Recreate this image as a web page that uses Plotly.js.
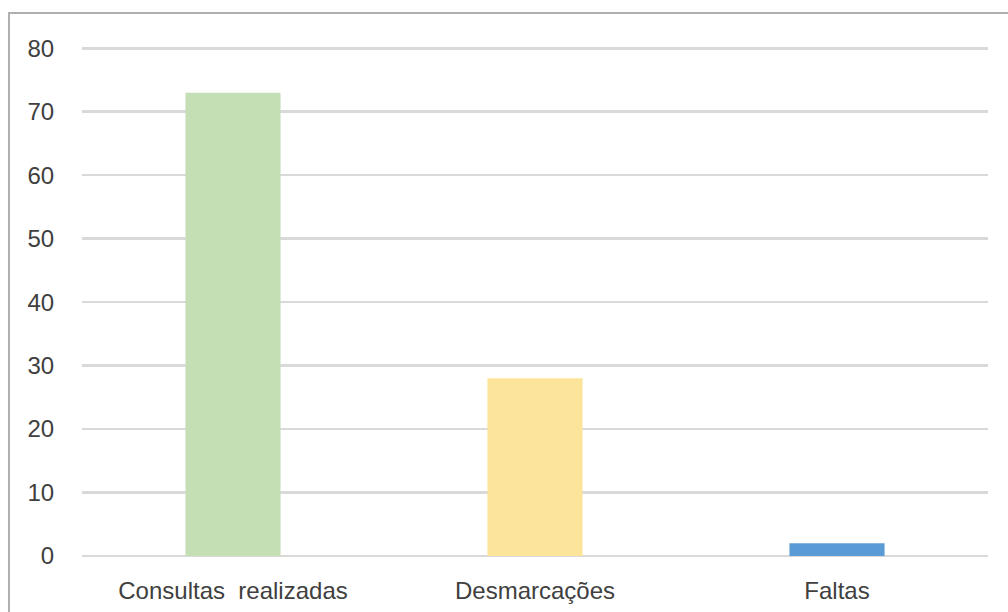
<!DOCTYPE html>
<html>
<head>
<meta charset="utf-8">
<script src="https://cdn.plot.ly/plotly-3.0.1.min.js"></script>
<style>html,body{margin:0;padding:0;background:#fff;}#chart{width:1008px;height:612px;}</style>
</head>
<body>
<div id="chart"></div>
<script>
const categories = ["Consultas\u00a0 realizadas", "Desmarcações", "Faltas"];
const values = [73, 28, 2];
const barColors = ["#c5dfb5", "#fce49a", "#5b9bd5"];
const yTicks = [0, 10, 20, 30, 40, 50, 60, 70, 80];

const trace = {
  type: "bar",
  x: categories,
  y: values,
  marker: { color: barColors },
  hoverinfo: "skip"
};

const layout = {
  width: 1008,
  height: 612,
  margin: { l: 82, r: 20, t: 47, b: 56 },
  paper_bgcolor: "#ffffff",
  plot_bgcolor: "#ffffff",
  bargap: 0.685,
  showlegend: false,
  font: { family: "Liberation Sans, Arial, sans-serif", size: 24, color: "#404040" },
  xaxis: {
    type: "category",
    showgrid: false,
    showline: false,
    zeroline: false,
    ticks: "outside",
    ticklen: 13,
    tickcolor: "rgba(0,0,0,0)",
    tickfont: { size: 24, color: "#404040" }
  },
  yaxis: {
    range: [0, 80.2],
    tickvals: yTicks,
    ticktext: yTicks.map(String),
    showgrid: true,
    gridcolor: "#d9d9d9",
    gridwidth: 2.5,
    zeroline: true,
    zerolinecolor: "#d9d9d9",
    zerolinewidth: 2.5,
    showline: false,
    ticks: "outside",
    ticklen: 22,
    tickcolor: "rgba(0,0,0,0)",
    tickfont: { size: 24, color: "#404040" }
  },
  shapes: [{
    type: "rect",
    xref: "paper", yref: "paper",
    x0: -0.0806, x1: 1.1, y0: -0.3, y1: 1.0669,
    line: { color: "#b0b0b0", width: 2 },
    fillcolor: "rgba(0,0,0,0)",
    layer: "below"
  }]
};

Plotly.newPlot("chart", [trace], layout, { displayModeBar: false, staticPlot: true });
</script>
</body>
</html>
